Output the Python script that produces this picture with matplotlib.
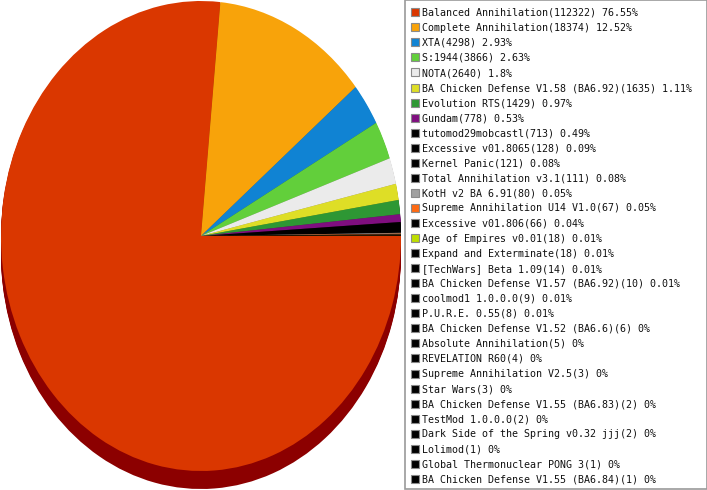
import numpy as np
import matplotlib
matplotlib.use("Agg")
import matplotlib.pyplot as plt
import matplotlib.colors as mcolors
from matplotlib.patches import Rectangle

names = [
    "Balanced Annihilation", "Complete Annihilation", "XTA", "S:1944", "NOTA",
    "BA Chicken Defense V1.58 (BA6.92)", "Evolution RTS", "Gundam",
    "tutomod29mobcastl", "Excessive v01.8065", "Kernel Panic",
    "Total Annihilation v3.1", "KotH v2 BA 6.91", "Supreme Annihilation U14 V1.0",
    "Excessive v01.806", "Age of Empires v0.01", "Expand and Exterminate",
    "[TechWars] Beta 1.09", "BA Chicken Defense V1.57 (BA6.92)", "coolmod1 1.0.0.0",
    "P.U.R.E. 0.55", "BA Chicken Defense V1.52 (BA6.6)", "Absolute Annihilation",
    "REVELATION R60", "Supreme Annihilation V2.5", "Star Wars",
    "BA Chicken Defense V1.55 (BA6.83)", "TestMod 1.0.0.0",
    "Dark Side of the Spring v0.32 jjj", "Lolimod", "Global Thermonuclear PONG 3",
    "BA Chicken Defense V1.55 (BA6.84)",
]
counts = [112322, 18374, 4298, 3866, 2640, 1635, 1429, 778, 713, 128, 121,
          111, 80, 67, 66, 18, 18, 14, 10, 9, 8, 6, 5, 4, 3, 3, 2, 2, 2, 1, 1, 1]
colors = ["#DA3700", "#F8A30A", "#1083D3", "#62CF3B", "#EBEBEB", "#DEDE26",
          "#2E9734", "#7F0E7F", "#000000", "#000000", "#000000", "#000000",
          "#A0A0A0", "#FF6A12", "#000000", "#BEDE00"] + ["#000000"] * 16

total = sum(counts)
labels = [f"{n}({c}) {round(100.0 * c / total, 2):g}%" for n, c in zip(names, counts)]


def darken(c):
    r, g, b = mcolors.to_rgb(c)
    return (r * 0.64, g * 0.0 if c == "#DA3700" else g * 0.6, b * 0.6)


side_colors = [darken(c) for c in colors]

W, H = 707, 490
fig = plt.figure(figsize=(W / 100, H / 100), dpi=100)

# pie axes: 400 px wide (rx=200), top face 470 px tall (ry=235), plus 18 px depth
depth_px = 18
ry_px = 235
pie_ax = fig.add_axes([1 / W, 1 / H, 400 / W, (2 * ry_px + depth_px) / H])
depth = depth_px / ry_px
for t in np.linspace(depth, 0.0, 16)[:-1]:
    pie_ax.pie(counts, colors=side_colors, startangle=0, counterclock=False,
               center=(0, -t), radius=1.0, wedgeprops=dict(linewidth=0))
pie_ax.pie(counts, colors=colors, startangle=0, counterclock=False,
           center=(0, 0), radius=1.0, wedgeprops=dict(linewidth=0))
pie_ax.set_aspect("auto")
pie_ax.set_xlim(-1, 1)
pie_ax.set_ylim(-1 - depth, 1)
pie_ax.axis("off")

# legend
leg = fig.add_axes([0, 0, 1, 1], zorder=5)
leg.set_xlim(0, W)
leg.set_ylim(H, 0)
leg.axis("off")
leg.add_patch(Rectangle((404.5, 0.5), 302, 488, facecolor="white",
                        edgecolor="#9A9A9A", linewidth=1.2))
y0, dy = 12.3, 15.05
for i, (lab, col) in enumerate(zip(labels, colors)):
    y = y0 + i * dy
    leg.add_patch(Rectangle((410.5, y - 4), 8, 8, facecolor=col,
                            edgecolor="#8A8A8A", linewidth=0.8))
    leg.text(422, y + 0.5, lab, fontsize=7.2, family="DejaVu Sans Mono",
             va="center", ha="left", color="#111111")

fig.savefig("out.png", dpi=100)
